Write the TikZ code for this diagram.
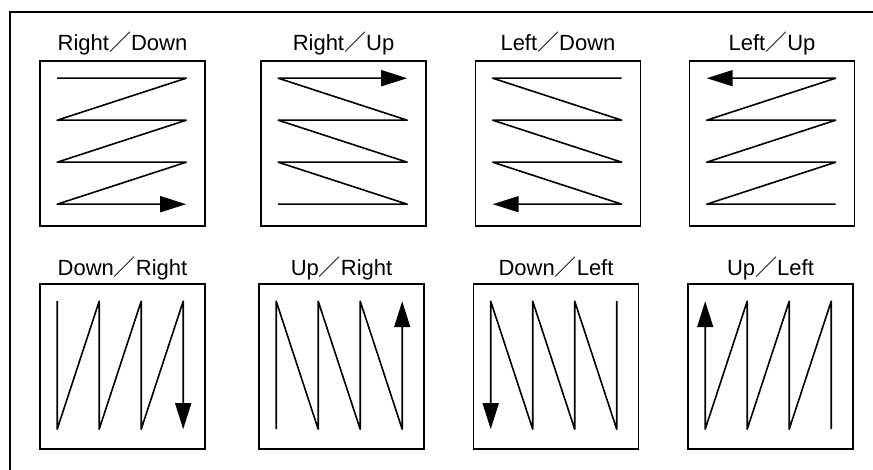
\documentclass[tikz,border=0pt]{standalone}
\usepackage{fontspec}
\setmainfont{Liberation Sans}
\newfontfamily\jpfont{Noto Sans CJK JP}
\newcommand{\jpslash}{{\jpfont ／}}
\usetikzlibrary{arrows.meta, positioning}
\tikzset{
  scanbox/.style={rectangle, draw=black, line width=1.6pt, minimum size=165pt, inner sep=0pt},
  lbl/.style={font=\fontsize{22}{26}\selectfont, inner sep=0pt},
  zz/.style={line width=1.6pt, line join=round},
  zza/.style={zz, -{Triangle[length=26pt, width=16pt]}},
  frame/.style={line width=1.6pt},
}
\begin{document}
\begin{tikzpicture}[x=1pt, y=-1pt]
    \useasboundingbox (0,0) rectangle (873,470);
    \coordinate (fl) at (10,472);
    \coordinate (fr) at (875,12);
    \draw[frame] (fl) |- (fr);
    % raster scans, horizontal first
    \node[scanbox] (rd) at (122.5,143.5) {};
    \node[scanbox] (ru) at (343.5,143.5) {};
    \node[scanbox] (ld) at (558,143.5) {};
    \node[scanbox] (lu) at (772,143.5) {};
    \node[lbl, above=10pt of rd, anchor=base] (trd) {Right\jpslash Down};
    \node[lbl, above=10pt of ru, anchor=base] (tru) {Right\jpslash Up};
    \node[lbl, above=10pt of ld, anchor=base] (tld) {Left\jpslash Down};
    \node[lbl, above=10pt of lu, anchor=base] (tlu) {Left\jpslash Up};
    \draw[zza] ([shift={(18,18)}]rd.north west) -- ++(129,0) -- ++(-129,42) -- ++(129,0) -- ++(-129,42) -- ++(129,0) -- ++(-129,42) -- ++(129,0);
    \draw[zza] ([shift={(18,144)}]ru.north west) -- ++(129,0) -- ++(-129,-42) -- ++(129,0) -- ++(-129,-42) -- ++(129,0) -- ++(-129,-42) -- ++(129,0);
    \draw[zza] ([shift={(147,18)}]ld.north west) -- ++(-129,0) -- ++(129,42) -- ++(-129,0) -- ++(129,42) -- ++(-129,0) -- ++(129,42) -- ++(-129,0);
    \draw[zza] ([shift={(147,144)}]lu.north west) -- ++(-129,0) -- ++(129,-42) -- ++(-129,0) -- ++(129,-42) -- ++(-129,0) -- ++(129,-42) -- ++(-129,0);
    % raster scans, vertical first
    \node[scanbox] (dr) at (122.5,366.5) {};
    \node[scanbox] (ur) at (341.5,366.5) {};
    \node[scanbox] (dl) at (556,366.5) {};
    \node[scanbox] (ul) at (770.5,366.5) {};
    \node[lbl, above=8pt of dr, anchor=base] (tdr) {Down\jpslash Right};
    \node[lbl, above=8pt of ur, anchor=base] (tur) {Up\jpslash Right};
    \node[lbl, above=8pt of dl, anchor=base] (tdl) {Down\jpslash Left};
    \node[lbl, above=8pt of ul, anchor=base] (tul) {Up\jpslash Left};
    \draw[zza] ([shift={(18,18)}]dr.north west) -- ++(0,128) -- ++(42,-128) -- ++(0,128) -- ++(42,-128) -- ++(0,128) -- ++(42,-128) -- ++(0,128);
    \draw[zza] ([shift={(18,146)}]ur.north west) -- ++(0,-128) -- ++(42,128) -- ++(0,-128) -- ++(42,128) -- ++(0,-128) -- ++(42,128) -- ++(0,-128);
    \draw[zza] ([shift={(144,18)}]dl.north west) -- ++(0,128) -- ++(-42,-128) -- ++(0,128) -- ++(-42,-128) -- ++(0,128) -- ++(-42,-128) -- ++(0,128);
    \draw[zza] ([shift={(144,146)}]ul.north west) -- ++(0,-128) -- ++(-42,128) -- ++(0,-128) -- ++(-42,128) -- ++(0,-128) -- ++(-42,128) -- ++(0,-128);
\end{tikzpicture}
\end{document}
